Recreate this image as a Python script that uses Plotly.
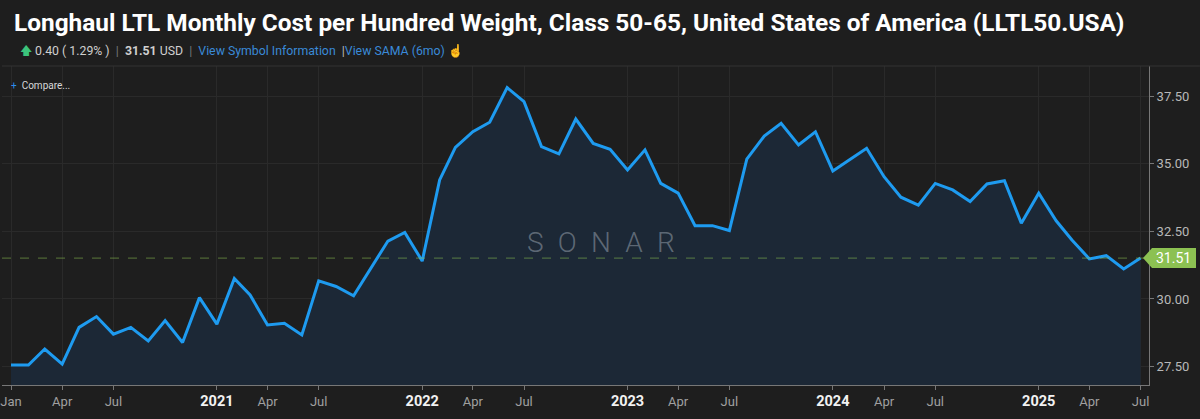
import pandas as pd
import plotly.graph_objects as go

# ── Data (monthly) ─────────────────────────────────────────────────────────────
MONTHS = pd.date_range("2020-01-01", "2025-07-01", freq="MS")

COST_CWT = [
    27.56, 27.56, 28.15, 27.59, 28.95, 29.35, 28.70, 28.95, 28.45, 29.20, 28.39, 30.05,  # 2020
    29.07, 30.76, 30.15, 29.04, 29.10, 28.67, 30.67, 30.46, 30.12, 31.13, 32.14, 32.46,  # 2021
    31.40, 34.40, 35.60, 36.18, 36.53, 37.81, 37.29, 35.63, 35.36, 36.65, 35.75, 35.53,  # 2022
    34.77, 35.51, 34.27, 33.91, 32.71, 32.71, 32.53, 35.17, 36.02, 36.49, 35.69, 36.18,  # 2023
    34.73, 35.16, 35.57, 34.52, 33.76, 33.47, 34.27, 34.03, 33.60, 34.25, 34.37, 32.80,  # 2024
    33.91, 32.89, 32.18, 31.48, 31.60, 31.11, 31.51,                                      # 2025
]

LAST_VALUE = 31.51
CHANGE = 0.40
CHANGE_PCT = 1.29

X_TICK_DATES = pd.date_range("2020-01-01", "2025-07-01", freq="QS")
X_TICK_LABELS = [
    "Jan", "Apr", "Jul", "Oct",
    "2021", "Apr", "Jul", "Oct",
    "2022", "Apr", "Jul", "Oct",
    "2023", "Apr", "Jul", "Oct",
    "2024", "Apr", "Jul", "Oct",
    "2025", "Apr", "Jul",
]
Y_TICKS = [27.5, 30.0, 32.5, 35.0, 37.5]

TITLE = ("Longhaul LTL Monthly Cost per Hundred Weight, Class 50-65, "
         "United States of America (LLTL50.USA)")

# ── Style ──────────────────────────────────────────────────────────────────────
BG = "#1e1e1e"
GRID = "#2a2a2a"
LINE = "#1e9bf0"
FILL = "#1c2836"
TAG = "#8cc152"
FONT = "Roboto"

# reference only labels Jan/Apr/Jul, years in bold white
tick_vals, tick_text = [], []
for d, lbl in zip(X_TICK_DATES, X_TICK_LABELS):
    if lbl == "Oct":
        continue
    tick_vals.append(d)
    if lbl.isdigit():
        tick_text.append(f"<b><span style='color:#f2f2f2;font-size:14.5px'>{lbl}</span></b>")
    else:
        tick_text.append(lbl)

fig = go.Figure()
fig.add_trace(go.Scatter(
    x=MONTHS, y=COST_CWT,
    mode="lines", fill="tozeroy", fillcolor=FILL,
    line=dict(color=LINE, width=3),
    showlegend=False, hoverinfo="x+y",
))

# current value dashed guide + tag
fig.add_shape(type="line", xref="paper", x0=0, x1=1, yref="y",
              y0=LAST_VALUE, y1=LAST_VALUE,
              line=dict(color="rgba(140,193,82,0.55)", width=1, dash="dash"))
fig.add_shape(type="path", xref="paper", yref="y",
              xsizemode="pixel", ysizemode="pixel",
              xanchor=1, yanchor=LAST_VALUE,
              path="M -6,0 L 3,10 L 47,10 L 47,-10 L 3,-10 Z",
              fillcolor=TAG, line=dict(width=0))
fig.add_annotation(xref="paper", x=1, xanchor="left", xshift=5,
                   yref="y", y=LAST_VALUE, text=f"{LAST_VALUE:.2f}",
                   showarrow=False, font=dict(family=FONT, size=14, color="#ffffff"))

# header separator
fig.add_shape(type="line", xref="paper", x0=0, x1=1200 / 1149, yref="paper",
              y0=1, y1=1, line=dict(color="#333333", width=1))

subtitle = (
    f"<span style='color:#3cc47c'>🡅</span> {CHANGE:.2f} ( {CHANGE_PCT:.2f}% )"
    "  <span style='color:#777'>|</span>  "
    f"<b>{LAST_VALUE:.2f}</b> USD"
    "  <span style='color:#777'>|</span>  "
    "<span style='color:#3a8ad8'>View Symbol Information</span>"
    "  <span style='color:#bbb'>|</span>"
    "<span style='color:#3a8ad8'>View SAMA (6mo)</span>"
    " <span style='color:#e6c619'>☝</span>"
)
fig.add_annotation(xref="paper", yref="paper", x=16 / 1149, y=1.047,
                   xanchor="left", yanchor="middle", text=subtitle, showarrow=False,
                   font=dict(family=FONT, size=12.3, color="#d0d0d0"))
fig.add_annotation(xref="paper", yref="paper", x=7 / 1149, y=0.94,
                   xanchor="left", yanchor="middle",
                   text="<span style='color:#2d8ceb'>+</span>  Compare...",
                   showarrow=False, font=dict(family=FONT, size=10, color="#d8d8d8"))

# watermark
fig.add_annotation(xref="paper", yref="paper", x=0.522, y=0.448,
                   text="S\u2002O\u2002N\u2002A\u2002R", showarrow=False,
                   font=dict(family=FONT, size=28, color="rgba(150,160,172,0.55)",
                             weight=300))

fig.update_layout(
    width=1200, height=419,
    paper_bgcolor=BG, plot_bgcolor=BG,
    margin=dict(l=0, r=51, t=66, b=34),
    title=dict(text=f"<b>{TITLE}</b>", xref="container", yref="container",
               x=14 / 1200, xanchor="left", y=1 - 22 / 419, yanchor="middle",
               font=dict(family=FONT, size=24.4, color="#ffffff")),
    xaxis=dict(
        type="date", range=["2019-12-16", "2025-07-16"],
        tickvals=tick_vals, ticktext=tick_text, ticklabeloverflow="allow",
        ticks="outside", ticklen=4, tickcolor="#777",
        showline=True, linecolor="#777", linewidth=1,
        showgrid=True, gridcolor=GRID, zeroline=False,
        tickfont=dict(family=FONT, size=13, color="#a0a0a0"),
    ),
    yaxis=dict(
        side="right", range=[26.82, 38.61],
        tickvals=Y_TICKS, tickformat=".2f",
        ticks="outside", ticklen=4, tickcolor="#777",
        showline=True, linecolor="#777", linewidth=1,
        showgrid=True, gridcolor=GRID, zeroline=False,
        tickfont=dict(family=FONT, size=13, color="#b8b8b8"),
    ),
)

# page body has a default 8px margin; drop it so the chart sits at the window edge
fig.write_html("out.html", config={"displayModeBar": False},
               post_script="document.body.style.margin='0';")
